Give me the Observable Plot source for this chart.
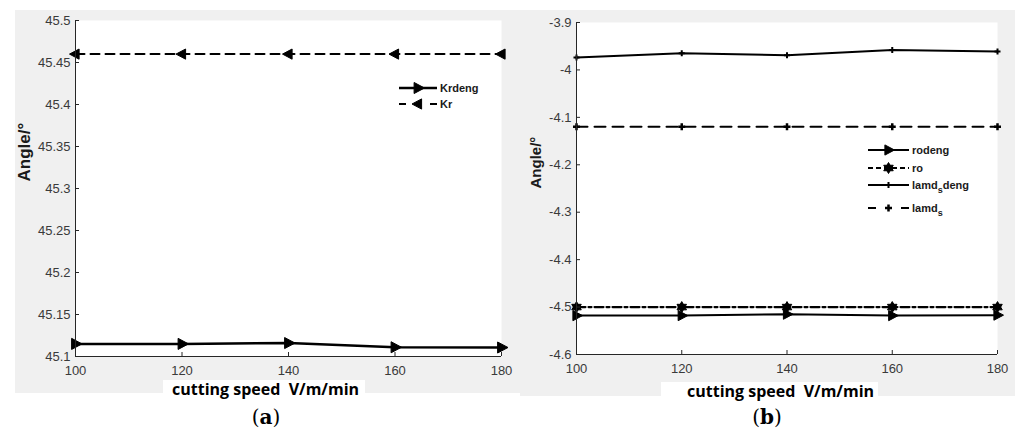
<!DOCTYPE html>
<html><head><meta charset="utf-8">
<script src="https://cdn.jsdelivr.net/npm/d3@7"></script>
<script src="https://cdn.jsdelivr.net/npm/@observablehq/plot@0.6"></script>
<style>
body{margin:0;background:#fff;}
#wrap{position:relative;width:1015px;height:434px;overflow:hidden;font-family:"Liberation Sans",Arial,sans-serif;}
.bg{position:absolute;background:#f0f0f0;}
.xlab{position:absolute;background:#fff;font-family:"Open Sans",sans-serif;font-weight:700;font-size:16px;color:#000;line-height:18px;white-space:pre;box-sizing:border-box;}
.cap{position:absolute;width:100px;text-align:center;font-family:"DejaVu Serif",serif;font-size:20px;color:#000;}
</style></head>
<body>
<div id="wrap">
  <div class="bg" style="left:15px;top:10px;width:505px;height:383px"></div>
  <div class="bg" style="left:520px;top:10px;width:495px;height:386px"></div>
</div>
<script>
// ---------- data ----------
const speed = [100, 120, 140, 160, 180];
const krDeng = [45.115, 45.115, 45.116, 45.111, 45.1107];
const kr = [45.46, 45.46, 45.46, 45.46, 45.46];
const roDeng = [-4.518, -4.518, -4.515, -4.518, -4.517];
const ro = [-4.5, -4.5, -4.5, -4.5, -4.5];
const lamdsDeng = [-3.974, -3.965, -3.969, -3.958, -3.961];
const lamds = [-4.12, -4.12, -4.12, -4.12, -4.12];
const xTicks = [100, 120, 140, 160, 180];
const yTicksA = [45.1, 45.15, 45.2, 45.25, 45.3, 45.35, 45.4, 45.45, 45.5];
const yTicksB = [-4.6, -4.5, -4.4, -4.3, -4.2, -4.1, -4, -3.9];
const yLabel = "Angle/°";
const xLabel = "cutting speed  V/m/min";
const captionLetters = ["a", "b"];
const legendA = ["Krdeng", "Kr"];
const legendB = ["rodeng", "ro", "lamd_s deng", "lamd_s"];

// ---------- symbols ----------
const rad = s => Math.sqrt(s / Math.PI);
const triRight = {draw(c, s) {const r = rad(s); c.moveTo(r, 0); c.lineTo(-r * 0.6, -r * 0.85); c.lineTo(-r * 0.6, r * 0.85); c.closePath();}};
const triLeft = {draw(c, s) {const r = rad(s); c.moveTo(-r, 0); c.lineTo(r * 0.6, -r * 0.85); c.lineTo(r * 0.6, r * 0.85); c.closePath();}};
const hexagram = {draw(c, s) {const r = rad(s);
  for (const off of [-Math.PI / 2, Math.PI / 2]) {
    for (let i = 0; i < 3; i++) {const a = off + i * 2 * Math.PI / 3; const x = r * Math.cos(a), y = r * Math.sin(a); if (i === 0) c.moveTo(x, y); else c.lineTo(x, y);}
    c.closePath();
  }}};
const plusSym = {draw(c, s) {const r = rad(s); c.moveTo(-r, 0); c.lineTo(r, 0); c.moveTo(0, -r); c.lineTo(0, r);}};

const rows = ys => speed.map((x, i) => ({x, y: ys[i]}));
const axisColor = "#262626";
const fmt = d => String(+d.toFixed(2));

function seriesMarks(s) {
  return [
    Plot.line(rows(s.values), {x: "x", y: "y", stroke: "black", strokeWidth: s.sw, strokeDasharray: s.dash}),
    Plot.dot(rows(s.values), {x: "x", y: "y", symbol: s.sym, r: s.r,
      fill: s.filled ? "black" : "none", stroke: "black", strokeWidth: s.msw || 1})
  ];
}

function panel({yDomain, yTicks, series, width, height, ml, mr, mt, mb, labelDx, labelDy, labelSize}) {
  return Plot.plot({
    width, height, marginLeft: ml, marginRight: mr, marginTop: mt, marginBottom: mb,
    style: {background: "transparent", fontFamily: "Liberation Sans, Arial, sans-serif", overflow: "visible"},
    x: {domain: [100, 180]},
    y: {domain: yDomain},
    marks: [
      Plot.frame({fill: "white", stroke: "none"}),
      ...series.flatMap(seriesMarks),
      Plot.ruleX([100], {stroke: axisColor}),
      Plot.ruleY([yDomain[0]], {stroke: axisColor}),
      Plot.axisX({ticks: xTicks, tickSize: -4, tickPadding: 13, tickFormat: fmt, fontSize: 13, fill: "#3a3a3a", stroke: axisColor, label: null}),
      Plot.axisY({ticks: yTicks, tickSize: -4, tickPadding: 9, tickFormat: fmt, fontSize: 13, fill: "#3a3a3a", stroke: axisColor, label: null}),
      Plot.text([yLabel], {frameAnchor: "left", rotate: -90, dx: labelDx, dy: labelDy, fontWeight: "bold", fontSize: labelSize, fill: "#1a1a1a"})
    ]
  });
}

const wrap = document.getElementById("wrap");

const seriesA = [
  {values: krDeng, sw: 2.5, dash: null, sym: triRight, r: 6.5, filled: true},
  {values: kr, sw: 2, dash: "9,6", sym: triLeft, r: 6, filled: true}
];
const seriesB = [
  {values: lamdsDeng, sw: 2, dash: null, sym: plusSym, r: 3, filled: false, msw: 2},
  {values: lamds, sw: 2, dash: "11,7", sym: plusSym, r: 3.5, filled: false, msw: 2.5},
  {values: ro, sw: 2.2, dash: "9,3,3,3", sym: hexagram, r: 5.5, filled: true},
  {values: roDeng, sw: 2, dash: null, sym: triRight, r: 6, filled: true}
];

const pa = panel({yDomain: [45.1, 45.5], yTicks: yTicksA, series: seriesA, width: 510, height: 380, ml: 75, mr: 9, mt: 20, mb: 24, labelDx: -51, labelDy: -7, labelSize: 17});
pa.style.position = "absolute"; pa.style.left = "0px"; pa.style.top = "0px";
wrap.appendChild(pa);

const pb = panel({yDomain: [-4.6, -3.9], yTicks: yTicksB, series: seriesB, width: 505, height: 380, ml: 66, mr: 18, mt: 22, mb: 26, labelDx: -40, labelDy: 0, labelSize: 15});
pb.style.position = "absolute"; pb.style.left = "510px"; pb.style.top = "0px";
wrap.appendChild(pb);

// ---------- x labels ----------
function addXLabel(left, top, w, padLeft) {
  const d = document.createElement("div");
  d.className = "xlab";
  d.style.left = left + "px"; d.style.top = top + "px"; d.style.width = w + "px"; d.style.height = "17px";
  d.style.paddingLeft = padLeft + "px";
  d.textContent = xLabel;
  wrap.appendChild(d);
}
addXLabel(163, 380, 202, 9);
addXLabel(661, 382, 217, 26);

// ---------- captions ----------
[[216, 405], [717, 405]].forEach(([l, t], i) => {
  const d = document.createElement("div");
  d.className = "cap";
  d.style.left = l + "px"; d.style.top = t + "px";
  d.innerHTML = "(<b>" + captionLetters[i] + "</b>)";
  wrap.appendChild(d);
});

// ---------- legends ----------
const svg = d3.select(wrap).append("svg")
  .attr("width", 1015).attr("height", 434)
  .style("position", "absolute").style("left", 0).style("top", 0).style("pointer-events", "none");

function symPath(sym, r) {const p = d3.path(); sym.draw(p, Math.PI * r * r); return p.toString();}

function legendRow(x0, x1, y, label, s, legDash) {
  svg.append("line").attr("x1", x0).attr("x2", x1).attr("y1", y).attr("y2", y)
    .attr("stroke", "black").attr("stroke-width", s.sw).attr("stroke-dasharray", legDash);
  svg.append("path").attr("d", symPath(s.sym, s.r)).attr("transform", `translate(${(x0 + x1) / 2},${y})`)
    .attr("fill", s.filled ? "black" : "none").attr("stroke", "black").attr("stroke-width", s.msw || 1);
  const t = svg.append("text").attr("x", x1 + 3).attr("y", y + 4)
    .attr("font-family", "Liberation Sans, Arial, sans-serif").attr("font-weight", "bold").attr("font-size", 11).attr("fill", "#1a1a1a");
  const parts = label.split("_");
  if (parts.length === 1) t.text(label);
  else {
    const rest = parts[1];
    const sub = rest[0], after = rest.slice(1).trim();
    t.append("tspan").text(parts[0]);
    t.append("tspan").attr("dy", 4).attr("font-size", 9).text(sub);
    if (after) t.append("tspan").attr("dy", -4).text(after);
  }
}
legendRow(399, 437, 88, legendA[0], seriesA[0], null);
legendRow(399, 437, 104, legendA[1], seriesA[1], "7,24");
legendRow(868, 909, 150, legendB[0], seriesB[3], null);
legendRow(868, 909, 168, legendB[1], seriesB[2], "5,3");
legendRow(868, 909, 185, legendB[2], seriesB[0], null);
legendRow(868, 909, 208, legendB[3], seriesB[1], "8,25");
</script>
</body></html>
